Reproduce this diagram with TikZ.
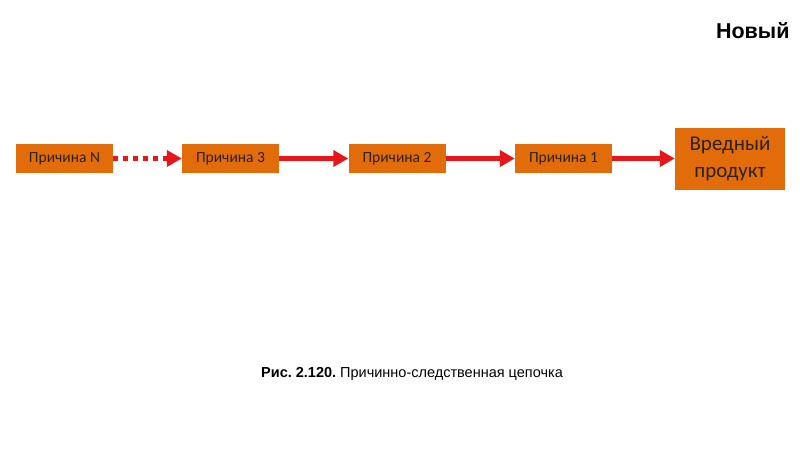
\documentclass[tikz,border=0pt]{standalone}
\usepackage{fontspec}
\setmainfont{Liberation Sans}
\newfontfamily\calib{Carlito}
\usetikzlibrary{arrows.meta}
\definecolor{boxor}{HTML}{E36C0A}
\definecolor{arrred}{HTML}{E8161B}
\definecolor{txt}{HTML}{2B2118}
\frenchspacing
\tikzset{
  causebox/.style={draw=none, fill=boxor, minimum width=97pt, minimum height=29pt, inner sep=0pt, font=\calib\fontsize{15.5}{18}\selectfont, text=txt},
  bigbox/.style={draw=none, fill=boxor, minimum width=110pt, minimum height=62pt, inner sep=0pt, align=center, font=\calib\fontsize{21}{27}\selectfont, text=txt},
  link/.style={draw=arrred, line width=5pt, -{Triangle[length=15pt, width=16pt]}},
  dotlink/.style={link, dash pattern=on 5pt off 5pt}
}
\begin{document}
\begin{tikzpicture}[x=1pt,y=-1pt]
\useasboundingbox (0,0) rectangle (800,450);
\node[causebox] (cN) at (64.5,158.5) {Причина N};
\node[causebox] (c3) at (230.5,158.5) {Причина 3};
\node[causebox] (c2) at (397,158.5) {Причина 2};
\node[causebox] (c1) at (563.5,158.5) {Причина 1};
\node[bigbox] (prod) at (730,158.5) {Вредный\\продукт};
\draw[dotlink] (cN.east) -- (c3.west);
\draw[link] (c3.east) -- (c2.west);
\draw[link] (c2.east) -- (c1.west);
\draw[link] (c1.east) -- (prod.west);
\node[anchor=east, font=\bfseries\fontsize{21.5}{25}\selectfont] (title) at (793,31) {Новый};
\node[font=\fontsize{14.5}{17}\selectfont] (cap) at (412,374) {\textbf{Рис. 2.120.} Причинно-следственная цепочка};
\end{tikzpicture}
\end{document}
